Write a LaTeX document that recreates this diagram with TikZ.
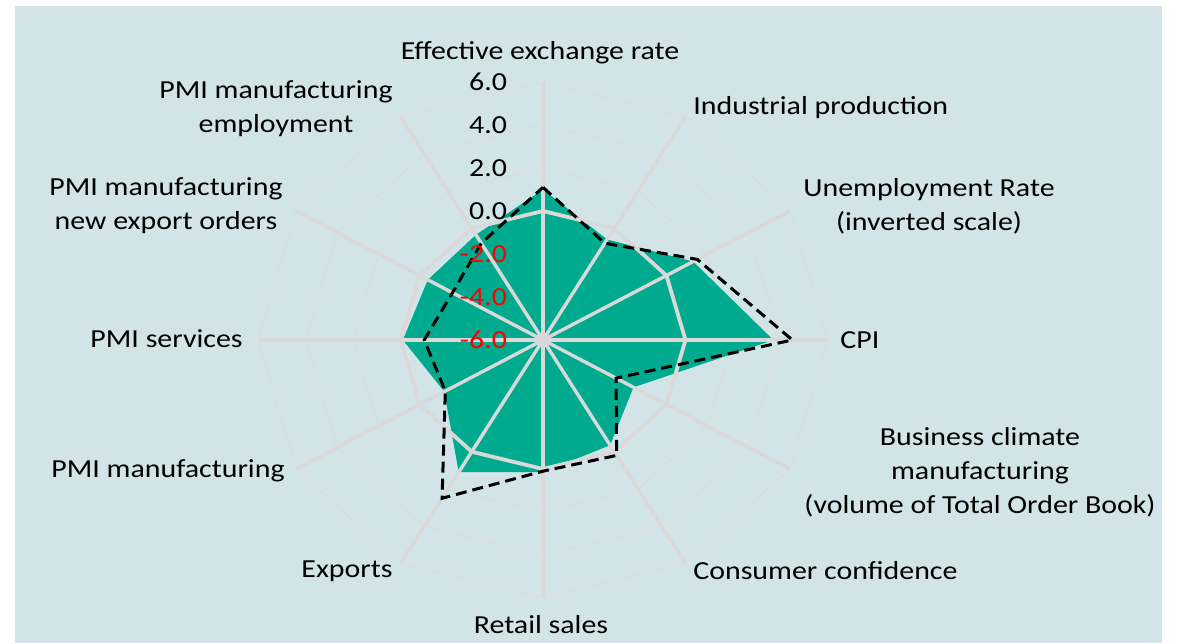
\documentclass[tikz,border=0pt]{standalone}
\usepackage{fontspec}
\setmainfont[FakeStretch=1.15]{Carlito}
\usepackage{xcolor}
\definecolor{chartbg}{RGB}{210,228,232}
\definecolor{fillgreen}{RGB}{0,170,142}
\definecolor{spokegrey}{RGB}{217,217,217}
\definecolor{ringgrey}{RGB}{226,214,218}
\usepackage{tikz}
\usetikzlibrary{calc}
\tikzstyle{spoke} = [draw=spokegrey, line width=1.7pt]
\tikzstyle{ring} = [draw=ringgrey, line width=0.5pt, dash pattern=on 1.5pt off 1pt]
\tikzstyle{zeroring} = [draw=spokegrey, line width=1.9pt, line join=round]
\tikzstyle{seriesnow} = [fill=fillgreen]
\tikzstyle{seriesprev} = [draw=black, line width=1.5pt, dash pattern=on 5.5pt off 3pt]
\tikzstyle{axislabel} = [
    font=\fontsize{13}{17}\selectfont,
    align=center,
    inner sep=0pt,
]
\tikzstyle{ticklabel} = [axislabel, anchor=east]

\begin{document}
\begin{tikzpicture}[x=0.5pt, y=-0.5pt]
    % background
    \fill[chartbg] (15,6) rectangle (1162,643);
    \useasboundingbox (0,0) rectangle (1181,643);

    \begin{scope}[shift={(543,340)}, x=11.875pt, y=10.75pt]
        \coordinate (o) at (0,0);

        % grid rings
        \foreach \r in {2,4,8,10,12} {
            \draw[ring] (90:\r) \foreach \a in {60,30,...,-240} { -- (\a:\r) } -- cycle;
        }

        % series
        \foreach \v [count=\i] in {1.0,-0.6,1.3,3.7,-1.6,-0.35,0.15,1.1,-1.2,-0.1,-0.4,-0.35} {
            \coordinate (now\i) at ({120-30*\i}:{\v+6});
        }
        \foreach \v [count=\i] in {1.1,-0.8,1.5,4.5,-2.45,0.2,0.1,2.5,-1.25,-1.0,-1.6,-0.8} {
            \coordinate (prev\i) at ({120-30*\i}:{\v+6});
        }
        \fill[seriesnow] (now1) \foreach \i in {2,...,12} { -- (now\i) } -- cycle;

        % spokes
        \foreach \i in {1,...,12} {
            \coordinate (ax\i) at ({120-30*\i}:12);
            \draw[spoke] (o) -- (ax\i);
        }
        \draw[zeroring] (90:6) \foreach \a in {60,30,...,-240} { -- (\a:6) } -- cycle;

        \draw[seriesprev] (prev1) \foreach \i in {2,...,12} { -- (prev\i) } -- cycle;

        % scale
        \foreach \t/\c [count=\i from 0] in {-6.0/red,-4.0/red,-2.0/red,0.0/black,2.0/black,4.0/black,6.0/black} {
            \node[ticklabel, text=\c] (tick\i) at (-1.5,{2*\i}) {\t};
        }
    \end{scope}

    % axis labels
    \node[axislabel] (eer) at (540,53) {Effective exchange rate};
    \node[axislabel, anchor=west] (ip) at (693,108) {Industrial production};
    \node[axislabel] (unemp) at (929,206) {Unemployment Rate\\(inverted scale)};
    \node[axislabel, anchor=west] (cpi) at (840,340) {CPI};
    \node[axislabel] (bcm) at (980,472) {Business climate\\manufacturing\\(volume of Total Order Book)};
    \node[axislabel, anchor=west] (cc) at (693,571) {Consumer confidence};
    \node[axislabel] (retail) at (541,625) {Retail sales};
    \node[axislabel, anchor=east] (exp) at (393,571) {Exports};
    \node[axislabel, anchor=east] (pmim) at (285,471) {PMI manufacturing};
    \node[axislabel, anchor=east] (pmis) at (243,339) {PMI services};
    \node[axislabel] (pmineo) at (166,206) {PMI manufacturing\\new export orders};
    \node[axislabel] (pmiemp) at (276,109) {PMI manufacturing\\employment};
\end{tikzpicture}
\end{document}
